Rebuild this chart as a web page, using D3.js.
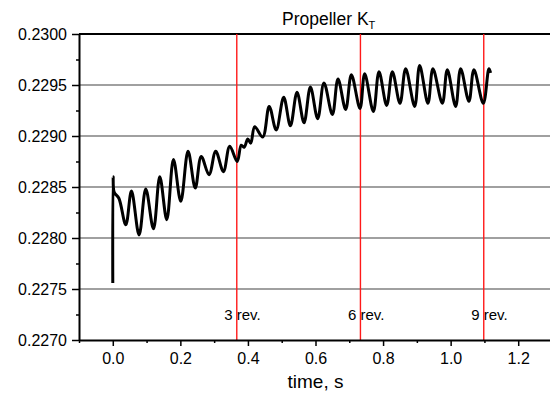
<!DOCTYPE html>
<html>
<head>
<meta charset="utf-8">
<script src="https://cdn.jsdelivr.net/npm/d3@7"></script>
<style>
  body { margin: 0; background: #fff; }
  svg { display: block; font-family: "Liberation Sans", Arial, sans-serif; }
</style>
</head>
<body>
<div id="chart"></div>
<script>
// time (s) and thrust coefficient (peaks / troughs)
const timeS = [
  0.000, 0.001, 0.004, 0.018, 0.0385, 0.0553, 0.0778, 0.0976, 0.1204, 0.1391,
  0.1598, 0.1796, 0.2012, 0.2228, 0.2441, 0.2618, 0.2849, 0.3047, 0.3275, 0.3462,
  0.3683, 0.3802, 0.3891, 0.3994, 0.4083, 0.4201, 0.4438, 0.4630, 0.4837, 0.5059,
  0.5257, 0.5453, 0.5660, 0.5849, 0.6065, 0.6251, 0.6500, 0.6666, 0.6893, 0.7062,
  0.7317, 0.7456, 0.7713, 0.7879, 0.8107, 0.8275, 0.8500, 0.8669, 0.8935, 0.9083,
  0.9328, 0.9476, 0.9754, 0.9902, 1.0148, 1.0296, 1.0541, 1.0689, 1.0967, 1.1133,
  1.1183
];
const ktValues = [
  0.22756, 0.22860, 0.22845, 0.22839, 0.22813, 0.22846, 0.22803, 0.22848, 0.22809, 0.22860,
  0.22818, 0.22877, 0.22836, 0.22885, 0.22849, 0.22880, 0.22862, 0.22885, 0.22865, 0.22890,
  0.22875, 0.22891, 0.22889, 0.22897, 0.22893, 0.22909, 0.22899, 0.22929, 0.22906, 0.22938,
  0.22910, 0.22943, 0.22913, 0.22948, 0.22917, 0.22952, 0.22921, 0.22956, 0.22926, 0.22960,
  0.22927, 0.22961, 0.22924, 0.22963, 0.22930, 0.22963, 0.22932, 0.22966, 0.22929, 0.22969,
  0.22932, 0.22966, 0.22932, 0.22965, 0.22929, 0.22966, 0.22934, 0.22965, 0.22932, 0.22966,
  0.22962
];

const yMajor = [0.2270, 0.2275, 0.2280, 0.2285, 0.2290, 0.2295, 0.2300];
const yMinor = [0.22725, 0.22775, 0.22825, 0.22875, 0.22925, 0.22975];
const yGrid = [0.2275, 0.2280, 0.2285, 0.2290, 0.2295];
const xMajor = [0.0, 0.2, 0.4, 0.6, 0.8, 1.0, 1.2];
const xMinor = [-0.1, 0.1, 0.3, 0.5, 0.7, 0.9, 1.1, 1.3];

const revTimes = [0.367, 0.733, 1.098];
const revLabels = ["3 rev.", "6 rev.", "9 rev."];

const W = 550, H = 394;
const plotL = 79, plotR = 552, plotT = 34, plotB = 340;

const svg = d3.select("#chart").append("svg")
  .attr("width", W).attr("height", H);

const x = d3.scaleLinear().domain([-0.1, 1.3]).range([plotL, plotR]);
const y = d3.scaleLinear().domain([0.2270, 0.2300]).range([plotB, plotT]);

// grid lines
svg.append("g").selectAll("line")
  .data(yGrid).enter().append("line")
  .attr("x1", plotL).attr("x2", plotR)
  .attr("y1", d => y(d)).attr("y2", d => y(d))
  .attr("stroke", "#808080").attr("stroke-width", 1.5);

// top frame line
svg.append("line")
  .attr("x1", plotL).attr("x2", plotR)
  .attr("y1", y(0.2300)).attr("y2", y(0.2300))
  .attr("stroke", "#000").attr("stroke-width", 1.8);

// revolution markers
svg.append("g").selectAll("line")
  .data(revTimes).enter().append("line")
  .attr("x1", d => x(d)).attr("x2", d => x(d))
  .attr("y1", plotT).attr("y2", plotB)
  .attr("stroke", "#ff1a1a").attr("stroke-width", 1.4);

svg.append("g").selectAll("text")
  .data(revTimes).enter().append("text")
  .attr("x", d => x(d) - 12.5)
  .attr("y", 320)
  .attr("font-size", 15)
  .attr("fill", "#000")
  .text((d, i) => revLabels[i]);

// data trace
const pts = timeS.map((t, i) => [t, ktValues[i]]);
const line = d3.line()
  .x(d => x(d[0]))
  .y(d => y(d[1]))
  .curve(d3.curveCatmullRom.alpha(0.5));

svg.append("path")
  .datum(pts)
  .attr("d", line)
  .attr("fill", "none")
  .attr("stroke", "#000")
  .attr("stroke-width", 3)
  .attr("stroke-linejoin", "round");

// axes
const xAxis = svg.append("g")
  .attr("transform", `translate(0,${plotB})`)
  .call(d3.axisBottom(x).tickValues(xMajor).tickSize(6).tickSizeOuter(0)
    .tickPadding(6).tickFormat(d3.format(".1f")));
svg.append("g")
  .attr("transform", `translate(0,${plotB})`)
  .call(d3.axisBottom(x).tickValues(xMinor).tickSize(3).tickSizeOuter(0).tickFormat(""))
  .call(g => g.select(".domain").remove());

const yAxis = svg.append("g")
  .attr("transform", `translate(${plotL},0)`)
  .call(d3.axisLeft(y).tickValues(yMajor).tickSize(7).tickSizeOuter(0)
    .tickPadding(5).tickFormat(d3.format(".4f")));
svg.append("g")
  .attr("transform", `translate(${plotL},0)`)
  .call(d3.axisLeft(y).tickValues(yMinor).tickSize(3).tickSizeOuter(0).tickFormat(""))
  .call(g => g.select(".domain").remove());

svg.selectAll(".domain").attr("stroke", "#000").attr("stroke-width", 2);
svg.selectAll(".tick line").attr("stroke", "#000").attr("stroke-width", 1.5);
svg.selectAll(".tick text")
  .attr("font-family", "Liberation Sans, Arial, sans-serif")
  .attr("font-size", 16).attr("fill", "#000");
xAxis.selectAll(".tick text").attr("dy", "0.75em").attr("y", 12);

// titles
const title = svg.append("text")
  .attr("x", 282).attr("y", 25)
  .attr("font-size", 17.5).attr("fill", "#000")
  .text("Propeller K");
title.append("tspan")
  .attr("font-size", 11).attr("dy", 4)
  .text("T");

svg.append("text")
  .attr("x", (plotL + plotR) / 2).attr("y", 388)
  .attr("text-anchor", "middle")
  .attr("font-size", 19).attr("fill", "#000")
  .text("time, s");
</script>
</body>
</html>
